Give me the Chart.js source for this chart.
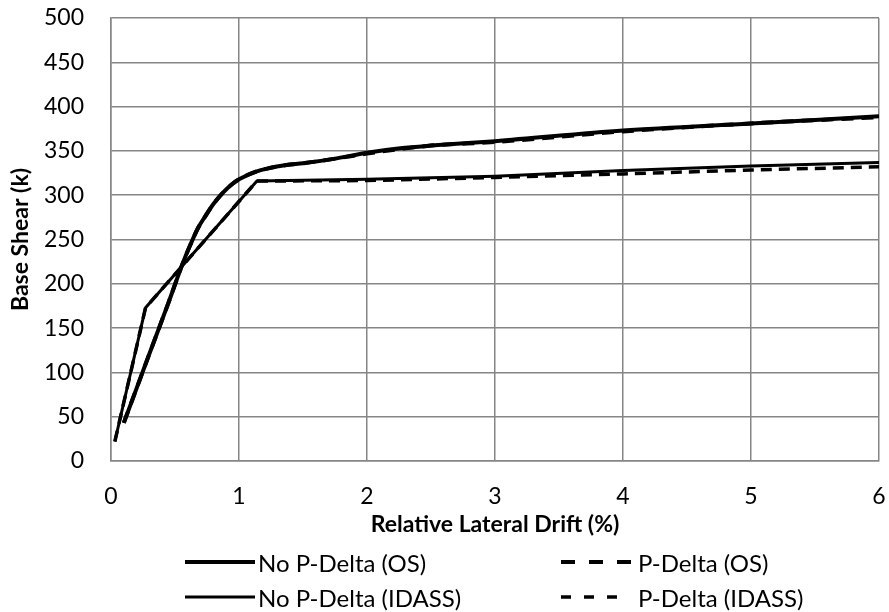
<!DOCTYPE html>
<html>
<head>
<meta charset="utf-8">
<script src="https://cdn.jsdelivr.net/npm/chart.js@4.4.0/dist/chart.umd.min.js"></script>
<style>
html,body{margin:0;padding:0;background:#fff;}
#wrap{position:relative;width:889px;height:612px;}
#legend{position:absolute;left:0;top:0;width:889px;height:612px;pointer-events:none;font-family:Lato,"Open Sans",sans-serif;font-size:24px;color:#000;}
.item{position:absolute;display:flex;align-items:center;height:30px;white-space:nowrap;}
.item svg{display:block;}
</style>
</head>
<body>
<div id="wrap">
<canvas id="c" width="889" height="612"></canvas>
<div id="legend"></div>
</div>
<script>
// ---- Data ----
const driftOS        = [0.10, 0.30, 0.45, 0.56, 0.62, 0.68, 0.74, 0.80, 0.875, 0.95, 1.00, 1.14, 1.22, 1.37, 1.50, 1.74, 2.00, 2.26, 2.50, 3.00, 4.00, 5.00, 6.00];
const shearOSNoPD    = [43,   121,  179,  223,  244,  263,  277,  290,  303,   313,  318,  327,  330,  334,  336,  341,  348,  353,  356,  361,  373,  381,  389];
const shearOSPD      = [43,   121,  179,  223,  244,  263,  277,  290,  303,   313,  318,  327,  330,  334,  336,  341,  347,  352,  356,  360,  372,  381,  388];

const driftIDASS     = [0.03, 0.27, 1.14, 2.00, 3.00, 4.00, 5.00, 6.00];
const shearIDASSNoPD = [22,   173,  316,  318,  321.5, 328, 333,  337];
const shearIDASSPD   = [22,   173,  316,  316.5, 320, 324,  328.5, 332];

const xTicks = [0, 1, 2, 3, 4, 5, 6];
const yTicks = [0, 50, 100, 150, 200, 250, 300, 350, 400, 450, 500];

const seriesNames = ['No P-Delta (OS)', 'P-Delta (OS)', 'No P-Delta (IDASS)', 'P-Delta (IDASS)'];

function pts(xs, ys){ return xs.map((x,i)=>({x:x, y:ys[i]})); }

const FONT = 'Lato';
const GRID = '#868686';

const datasets = [
  {label: seriesNames[2], data: pts(driftIDASS, shearIDASSNoPD), borderColor:'#000', borderWidth:3, borderDash:[], tension:0, legendDash:[], legendLen:70},
  {label: seriesNames[3], data: pts(driftIDASS, shearIDASSPD), borderColor:'#000', borderWidth:3.5, borderDash:[11,7], tension:0, legendDash:[10,13], legendLen:56},
  {label: seriesNames[0], data: pts(driftOS, shearOSNoPD), borderColor:'#000', borderWidth:4, borderDash:[], cubicInterpolationMode:'monotone', legendDash:[], legendLen:70},
  {label: seriesNames[1], data: pts(driftOS, shearOSPD), borderColor:'#000', borderWidth:4, borderDash:[12,8], cubicInterpolationMode:'monotone', legendDash:[14,14], legendLen:70}
];
datasets.forEach(d=>{ d.pointRadius=0; d.fill=false; d.borderCapStyle='butt'; d.backgroundColor='#000'; });

const chart = new Chart(document.getElementById('c'), {
  type: 'line',
  data: { datasets: datasets },
  options: {
    responsive: false,
    animation: false,
    layout: { padding: { left: 0, right: 10, top: 18, bottom: 74 } },
    plugins: { legend: { display: false }, tooltip: { enabled: false } },
    scales: {
      x: {
        type: 'linear', min: 0, max: 6,
        afterBuildTicks: s => { s.ticks = xTicks.map(v=>({value:v})); },
        afterFit: s => { s.height = 77; s.paddingLeft = 7; s.paddingRight = 7; },
        ticks: { color:'#000', font:{family:FONT, size:23}, padding: 22, maxRotation:0 },
        grid: { color: GRID, lineWidth: 1.5, drawTicks: false },
        border: { color: GRID, width: 1.5 },
        title: { display: true, text: 'Relative Lateral Drift (%)', color:'#000', font:{family:FONT, size:23, weight:'bold'}, padding:{top:0,bottom:0} }
      },
      y: {
        type: 'linear', min: 0, max: 500,
        afterBuildTicks: s => { s.ticks = yTicks.map(v=>({value:v})); },
        afterFit: s => { s.width = 111; s.paddingTop = 14; s.paddingBottom = 14; },
        ticks: { color:'#000', font:{family:FONT, size:23}, padding: 27 },
        grid: { color: GRID, lineWidth: 1.5, drawTicks: false },
        border: { color: GRID, width: 1.5 },
        title: { display: true, text: 'Base Shear (k)', color:'#000', font:{family:FONT, size:23, weight:'bold'}, padding:{top:7,bottom:0} }
      }
    }
  }
});

// ---- HTML legend built from dataset styles ----
const legendSpec = [
  {ds: 2, left: 185, row: 562, textLeft: 258},
  {ds: 3, left: 561, row: 562, textLeft: 638},
  {ds: 0, left: 185, row: 597, textLeft: 258},
  {ds: 1, left: 561, row: 597, textLeft: 638}
];
const leg = document.getElementById('legend');
legendSpec.forEach(sp => {
  const d = datasets[sp.ds];
  const div = document.createElement('div');
  div.className = 'item';
  div.style.left = sp.left + 'px';
  div.style.top = (sp.row - 15) + 'px';
  const lw = d.borderWidth;
  const svg = '<svg width="'+(sp.textLeft - sp.left)+'" height="10"><line x1="0" y1="5" x2="'+d.legendLen+'" y2="5" stroke="#000" stroke-width="'+lw+'" stroke-dasharray="'+(d.legendDash.length? d.legendDash.join(','):'none')+'"/></svg>';
  div.innerHTML = svg + '<span>' + d.label + '</span>';
  leg.appendChild(div);
});
</script>
</body>
</html>
